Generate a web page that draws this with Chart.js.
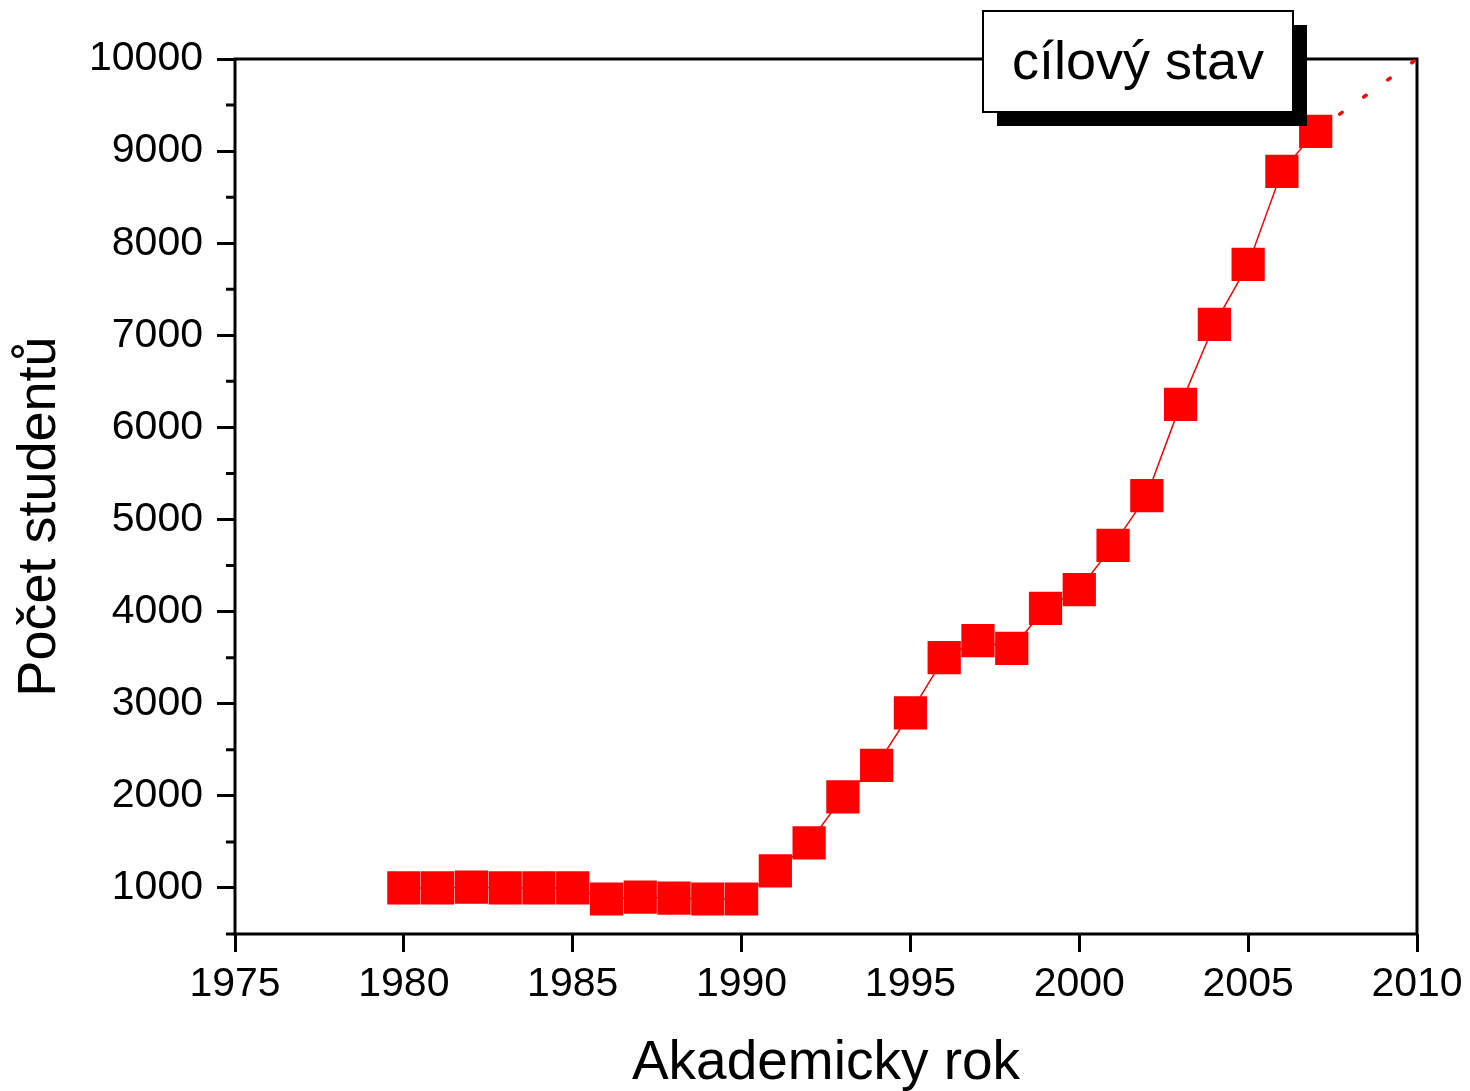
<!DOCTYPE html>
<html>
<head>
<meta charset="utf-8">
<script src="https://cdn.jsdelivr.net/npm/chart.js@4/dist/chart.umd.min.js"></script>
<style>
  html, body { margin: 0; padding: 0; background: #fff; }
  .chart { width: 1470px; height: 1091px; }
</style>
</head>
<body>
<div class="chart"><canvas id="c"></canvas></div>
<script>
// data
const years = [1980, 1981, 1982, 1983, 1984, 1985, 1986, 1987, 1988, 1989, 1990,
  1991, 1992, 1993, 1994, 1995, 1996, 1997, 1998, 1999, 2000,
  2001, 2002, 2003, 2004, 2005, 2006, 2007];
const students = [1000, 1000, 1010, 1000, 1000, 1000, 880, 900, 890, 880, 880,
  1185, 1490, 1990, 2330, 2900, 3500, 3685, 3600, 4035, 4240,
  4720, 5260, 6250, 7120, 7770, 8780, 9215];
const targetYears = [2007, 2010];
const targetStudents = [9215, 10000];
const legendText = 'cílový stav';
const xTitle = 'Akademicky rok';
const yTitle = 'Počet studentů';

const FONT = '"Liberation Sans", Arial, sans-serif';
const RED = '#ff0000';

// plot frame, minor ticks on the y axis, y title
const framePlugin = {
  id: 'frame',
  beforeDatasetsDraw(chart) {
    const { ctx, chartArea: a } = chart;
    const y = chart.scales.y;
    ctx.save();
    ctx.strokeStyle = '#000';
    ctx.lineWidth = 3;
    ctx.strokeRect(a.left, a.top, a.right - a.left, a.bottom - a.top);
    ctx.beginPath();
    y.ticks.forEach(t => {
      if (t.value % 1000 !== 0) {
        const py = y.getPixelForValue(t.value);
        ctx.moveTo(a.left - 9, py);
        ctx.lineTo(a.left, py);
      }
    });
    ctx.stroke();
    // y title, sits a bit below the axis middle in the original
    ctx.translate(40, (a.top + a.bottom) / 2 + 20);
    ctx.rotate(-Math.PI / 2);
    ctx.fillStyle = '#000';
    ctx.font = '54px ' + FONT;
    ctx.textAlign = 'center';
    ctx.textBaseline = 'middle';
    ctx.fillText(yTitle, 0, 0);
    ctx.restore();
  }
};

// "cílový stav" box with shadow
const legendBox = {
  id: 'legendBox',
  afterDraw(chart) {
    const { ctx, chartArea: a } = chart;
    const w = 310, h = 101, sh = 14;
    const x = a.right - 124 - w, y = a.top - 48;
    ctx.save();
    ctx.fillStyle = '#000';
    ctx.fillRect(x + sh, y + sh, w, h);
    ctx.fillStyle = '#fff';
    ctx.fillRect(x, y, w, h);
    ctx.strokeStyle = '#000';
    ctx.lineWidth = 2;
    ctx.strokeRect(x, y, w, h);
    ctx.fillStyle = '#000';
    ctx.font = '54px ' + FONT;
    ctx.textAlign = 'center';
    ctx.textBaseline = 'middle';
    ctx.fillText(legendText, x + w / 2, y + h / 2 + 3);
    ctx.restore();
  }
};

new Chart(document.getElementById('c'), {
  type: 'line',
  data: {
    datasets: [
      {
        label: yTitle,
        data: years.map((yr, i) => ({ x: yr, y: students[i] })),
        borderColor: RED,
        borderWidth: 1.5,
        backgroundColor: RED,
        pointStyle: 'rect',
        pointRadius: 23.5,
        pointHoverRadius: 23.5,
        pointBorderWidth: 0,
        tension: 0,
        order: 1,
      },
      {
        label: legendText,
        data: targetYears.map((yr, i) => ({ x: yr, y: targetStudents[i] })),
        borderColor: RED,
        borderWidth: 3.5,
        borderDash: [3, 26.5],
        borderCapStyle: 'round',
        pointRadius: 0,
        clip: false,
        order: 2,
      }
    ]
  },
  options: {
    responsive: true,
    maintainAspectRatio: false,
    animation: false,
    events: [],
    layout: { padding: { top: 59, right: 53, left: 0, bottom: 0 } },
    plugins: { legend: { display: false }, tooltip: { enabled: false } },
    scales: {
      x: {
        type: 'linear',
        min: 1975,
        max: 2010,
        border: { display: false },
        grid: { drawOnChartArea: false, tickLength: 18, tickWidth: 3, tickColor: '#000' },
        ticks: {
          stepSize: 5, color: '#000', font: { family: FONT, size: 41 }, padding: 8,
          callback: v => String(v)
        },
        title: {
          display: true, text: xTitle, color: '#000',
          font: { family: FONT, size: 55, lineHeight: 1 }, padding: 0
        },
        afterFit(s) { s.height = 157; s.paddingRight = 0; }
      },
      y: {
        min: 500,
        max: 10000,
        border: { display: false },
        grid: {
          drawOnChartArea: false, tickLength: 18, tickWidth: 3,
          tickColor: c => (c.tick && c.tick.value % 1000 === 0) ? '#000' : 'rgba(0,0,0,0)'
        },
        ticks: {
          stepSize: 500, color: '#000', font: { family: FONT, size: 41 }, padding: 14,
          autoSkip: false,
          callback: v => (v % 1000 === 0 ? String(v) : '')
        },
        afterFit(s) { s.width = 235; }
      }
    }
  },
  plugins: [framePlugin, legendBox]
});
</script>
</body>
</html>
